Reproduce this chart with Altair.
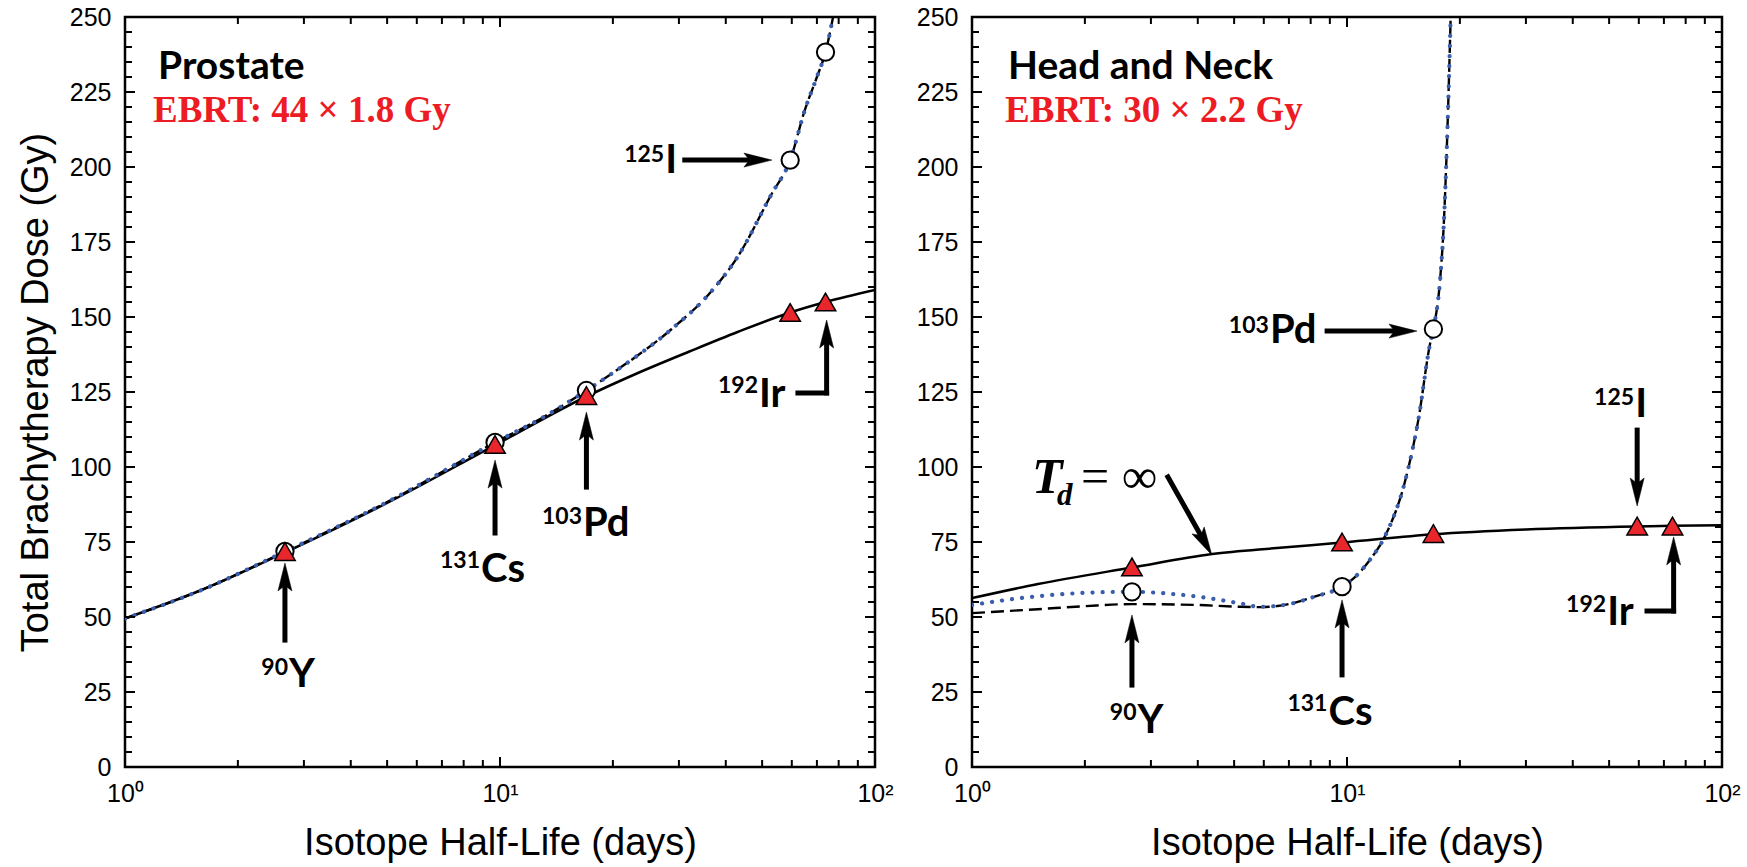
import math
import altair as alt
import pandas as pd

PLOT_W = 750
PLOT_H = 750
X_DOMAIN = [1, 100]
Y_DOMAIN = [0, 250]

# Isotope half-lives (days): 90Y, 131Cs, 103Pd, 125I, 192Ir
HALF_LIFE = [2.67, 9.7, 17.0, 59.4, 73.8]

# ---- Prostate panel ----
PRO_TRIANGLE = [71.8, 107.5, 123.8, 151.5, 155.0]
PRO_CIRCLE = [71.9, 108.2, 125.5, 202.3, 238.3]
PRO_SOLID_X = [1, 1.6, 2.67, 5, 9.7, 17, 23, 32, 43, 59.4, 73.8, 100]
PRO_SOLID_Y = [49.5, 59, 71.5, 88, 107.3, 123.5, 131, 138.5, 145, 151.5, 155, 159]
PRO_DASH_X = [1, 1.6, 2.67, 5, 9.7, 13, 17, 20.6, 28.7, 36, 43, 53, 59.4, 65, 70, 73.8, 77.3]
PRO_DASH_Y = [49.5, 59, 71.8, 88.3, 108.2, 116.5, 125.5, 132.5, 146, 157.5, 170, 191, 202.3, 219, 230, 238.3, 250]

# ---- Head and Neck panel ----
HN_TRIANGLE = [66.7, 75.0, 77.8, 80.3, 80.3]
HN_CIRCLE_X = [2.67, 9.7, 17.0]
HN_CIRCLE = [58.4, 60.1, 146.0]
HN_SOLID_X = [1, 1.5, 2.67, 4.37, 6.5, 9.7, 17, 30, 59.4, 73.8, 100]
HN_SOLID_Y = [56.3, 61, 66.5, 71, 73, 74.8, 77.6, 79.2, 80.2, 80.4, 80.6]
HN_DOT_X = [1, 1.44, 1.96, 2.67, 3.41, 4.27, 5.2, 5.86, 7.0, 8.2, 9.7, 10.5, 11.5, 12.6,
            14.3, 15.5, 16.65, 17.0, 17.7, 18.1, 18.5, 18.9]
HN_DOT_Y = [54, 56.7, 58, 58.4, 57.7, 56.3, 54.5, 53.4, 54.3, 56.8, 60.1, 63.3, 69, 76.7,
            95.5, 115.8, 141, 146, 162, 180, 210, 250]
HN_DASH_X = [1, 1.5, 2.0, 2.67, 4.0, 5.2, 5.86] + HN_DOT_X[8:]
HN_DASH_Y = [51.3, 52.6, 53.6, 54.3, 54.0, 53.4, 53.3] + HN_DOT_Y[8:]

# ---- Isotope labels (superscript mass number + element symbol) ----
LABEL_SUP = ["90", "131", "103", "125", "192"]
LABEL_SYM = ["Y", "Cs", "Pd", "I", "Ir"]
PRO_LABEL_X = [2.721, 8.846, 16.55, 27.4, 48.75]
PRO_LABEL_Y = [26.7, 61.7, 77.0, 198.0, 120.0]
PRO_SUP_Y = [30.7, 66.3, 81.0, 201.7, 124.7]
HN_LABEL_X = [2.746, 8.87, 6.19, 58.3, 49.1]
HN_LABEL_Y = [11.3, 14.0, 141.3, 116.7, 47.3]
HN_SUP_Y = [15.7, 18.7, 144.7, 120.7, 51.7]

# ---- Arrows: shaft from (x0, y0) to (x1, y1); head drawn at (x1, y1) when flagged ----
PRO_ARROW_X0 = [2.67, 9.7, 17.0, 31.1, 62.3, 74.3]
PRO_ARROW_Y0 = [42.3, 78.0, 93.3, 202.3, 124.7, 124.7]
PRO_ARROW_X1 = [2.67, 9.7, 17.0, 53.1, 74.3, 74.3]
PRO_ARROW_Y1 = [68.0, 102.3, 118.3, 202.3, 124.7, 149.0]
PRO_ARROW_HEAD = [True, True, True, True, False, True]

HN_ARROW_X0 = [2.67, 9.7, 8.85, 3.33, 59.4, 63.1, 74.3]
HN_ARROW_Y0 = [27.3, 30.7, 145.3, 96.7, 112.3, 52.0, 52.0]
HN_ARROW_X1 = [2.67, 9.7, 15.37, 4.36, 59.4, 74.3, 74.3]
HN_ARROW_Y1 = [50.7, 55.7, 145.3, 70.7, 87.0, 52.0, 76.7]
HN_ARROW_HEAD = [True, True, True, True, True, False, True]

# ---- Panel headings ----
PANEL_TITLE = ["Prostate", "Head and Neck"]
PANEL_TITLE_X = [1.225, 1.248]
PANEL_TITLE_Y = [229.3, 229.3]
EBRT_TEXT = ["EBRT: 44 \u00d7 1.8 Gy", "EBRT: 30 \u00d7 2.2 Gy"]
EBRT_X = [1.188, 1.225]
EBRT_Y = [215.0, 215.0]

# "T_d = infinity" callout pieces
TD_TEXT = ["T", "d", "= \u221e"]
TD_X = [1.445, 1.686, 1.953]
TD_Y = [91.3, 87.3, 91.3]

# Axis ticks
X_MAJOR = [1, 10, 100]
X_MINOR = [2, 3, 4, 5, 6, 7, 8, 9, 20, 30, 40, 50, 60, 70, 80, 90]
Y_MAJOR = list(range(0, 251, 25))
Y_MINOR = [v for v in range(0, 251, 5) if v % 25 != 0]

RED = "#E8262C"
BLUE = "#3A5DAE"
SANS = "Liberation Sans"
LABEL_FONT = "Lato"
SERIF = "Liberation Serif"

ARROW_PATH = "M0,0L0.5,2L0,1.6L-0.5,2Z"   # tip at origin, pointing up
HEAD_LEN = 28

X_SCALE = alt.Scale(type="log", domain=X_DOMAIN)
Y_SCALE = alt.Scale(domain=Y_DOMAIN)


def to_px(x, y):
    return (math.log10(x) / 2 * PLOT_W, (Y_DOMAIN[1] - y) / Y_DOMAIN[1] * PLOT_H)


def from_px(px, py):
    return (10 ** (px / PLOT_W * 2), Y_DOMAIN[1] - py / PLOT_H * Y_DOMAIN[1])


def arrow_frames(x0s, y0s, x1s, y1s, heads):
    shafts, tips = [], []
    for x0, y0, x1, y1, h in zip(x0s, y0s, x1s, y1s, heads):
        p0x, p0y = to_px(x0, y0)
        p1x, p1y = to_px(x1, y1)
        dx, dy = p1x - p0x, p1y - p0y
        length = math.hypot(dx, dy)
        ex, ey = x1, y1
        if h:
            angle = math.degrees(math.atan2(dx, -dy)) % 360
            tips.append({"x": x1, "y": y1, "angle": angle})
            bx = p1x - dx / length * (HEAD_LEN * 0.6)
            by = p1y - dy / length * (HEAD_LEN * 0.6)
            ex, ey = from_px(bx, by)
        shafts.append({"x": x0, "y": y0, "x2": ex, "y2": ey})
    return pd.DataFrame(shafts), pd.DataFrame(tips)


# Position channels share one scale per panel; only the line layer carries the axis spec.
def X(field="x"):
    return alt.X(f"{field}:Q", scale=X_SCALE)


def Y(field="y"):
    return alt.Y(f"{field}:Q", scale=Y_SCALE)


def x_axis():
    return alt.Axis(
        values=X_MAJOR,
        labelExpr="datum.value == 1 ? '10\u2070' : datum.value == 10 ? '10\u00b9' : '10\u00b2'",
        ticks=False, tickSize=0, domain=False, grid=False,
        labelFont=SANS, labelFontSize=25, labelColor="black", labelPadding=14,
        labelFlush=False, labelOverlap=False,
        title="Isotope Half-Life (days)", titleFont=SANS, titleFontSize=38,
        titleFontWeight="normal", titleColor="black", titlePadding=18,
    )


def y_axis(with_title):
    kw = dict(
        values=Y_MAJOR, ticks=False, tickSize=0, domain=False, grid=False,
        labelFont=SANS, labelFontSize=25, labelColor="black", labelPadding=14,
        labelFlush=False, labelOverlap=False,
    )
    if with_title:
        kw.update(title="Total Brachytherapy Dose (Gy)", titleFont=SANS, titleFontSize=38,
                  titleFontWeight="normal", titleColor="black", titlePadding=14)
    else:
        kw.update(title="")
    return alt.Axis(**kw)


def tick_layers():
    layers = []
    for vals, ln in ((Y_MAJOR, 10), (Y_MINOR, 7)):
        df = pd.DataFrame({"y": vals})
        layers.append(alt.Chart(df).mark_rule(color="black", strokeWidth=2).encode(
            y=Y(), x=alt.value(0), x2=alt.value(ln)))
        layers.append(alt.Chart(df).mark_rule(color="black", strokeWidth=2).encode(
            y=Y(), x=alt.value(PLOT_W), x2=alt.value(PLOT_W - ln)))
    for vals, ln in ((X_MAJOR, 10), (X_MINOR, 7)):
        df = pd.DataFrame({"x": vals})
        layers.append(alt.Chart(df).mark_rule(color="black", strokeWidth=2).encode(
            x=X(), y=alt.value(PLOT_H), y2=alt.value(PLOT_H - ln)))
        layers.append(alt.Chart(df).mark_rule(color="black", strokeWidth=2).encode(
            x=X(), y=alt.value(0), y2=alt.value(ln)))
    return layers


def panel(idx, solid, dashed, dotted, circles, triangles, labels, arrows, with_title, extra=()):
    solid_df = pd.DataFrame({"x": solid[0], "y": solid[1]})
    base = alt.Chart(solid_df).mark_line(
        color="black", strokeWidth=2.5, interpolate="monotone", clip=True
    ).encode(
        x=alt.X("x:Q", scale=X_SCALE, axis=x_axis()),
        y=alt.Y("y:Q", scale=Y_SCALE, axis=y_axis(with_title)),
    )
    dash = alt.Chart(pd.DataFrame({"x": dashed[0], "y": dashed[1]})).mark_line(
        color="black", strokeWidth=2.4, strokeDash=[13, 6], interpolate="monotone", clip=True
    ).encode(x=X(), y=Y())
    dot = alt.Chart(pd.DataFrame({"x": dotted[0], "y": dotted[1]})).mark_line(
        color=BLUE, strokeWidth=4.2, strokeDash=[0.1, 10], strokeCap="round",
        interpolate="monotone", clip=True
    ).encode(x=X(), y=Y())
    circ = alt.Chart(pd.DataFrame({"x": circles[0], "y": circles[1]})).mark_point(
        shape="circle", filled=True, fill="white", stroke="black", strokeWidth=2,
        size=300, opacity=1
    ).encode(x=X(), y=Y())
    tri = alt.Chart(pd.DataFrame({"x": triangles[0], "y": triangles[1]})).mark_point(
        shape="triangle-up", filled=True, fill=RED, stroke="black", strokeWidth=1.5,
        size=420, opacity=1
    ).encode(x=X(), y=Y())

    shafts_df, tips_df = arrow_frames(*arrows)
    shafts = alt.Chart(shafts_df).mark_rule(
        color="black", strokeWidth=5, strokeCap="square"
    ).encode(x=X(), y=Y(), x2="x2:Q", y2="y2:Q")
    heads = alt.Chart(tips_df).mark_point(
        shape=ARROW_PATH, filled=True, fill="black", stroke="black", strokeWidth=0.5,
        size=HEAD_LEN ** 2, opacity=1
    ).encode(x=X(), y=Y(), angle=alt.Angle("angle:Q", scale=None))

    lab_x, lab_y, sup_y = labels
    lab_df = pd.DataFrame({"x": lab_x, "y": lab_y, "t": LABEL_SYM})
    sup_df = pd.DataFrame({"x": lab_x, "y": sup_y, "t": LABEL_SUP})
    sym = alt.Chart(lab_df).mark_text(
        font=LABEL_FONT, fontWeight="bold", fontSize=40, align="left",
        baseline="alphabetic", color="black", dx=1
    ).encode(x=X(), y=Y(), text="t:N")
    sup = alt.Chart(sup_df).mark_text(
        font=LABEL_FONT, fontWeight="bold", fontSize=23, align="right",
        baseline="alphabetic", color="black"
    ).encode(x=X(), y=Y(), text="t:N")

    title = alt.Chart(pd.DataFrame({
        "x": [PANEL_TITLE_X[idx]], "y": [PANEL_TITLE_Y[idx]], "t": [PANEL_TITLE[idx]]
    })).mark_text(
        font=LABEL_FONT, fontWeight="bold", fontSize=39, align="left",
        baseline="alphabetic", color="black"
    ).encode(x=X(), y=Y(), text="t:N")
    ebrt = alt.Chart(pd.DataFrame({
        "x": [EBRT_X[idx]], "y": [EBRT_Y[idx]], "t": [EBRT_TEXT[idx]]
    })).mark_text(
        font=SERIF, fontWeight="bold", fontSize=37, align="left",
        baseline="alphabetic", color="#ED1C24"
    ).encode(x=X(), y=Y(), text="t:N")

    layers = [base, dash, dot, circ, tri, shafts, heads, sup, sym, title, ebrt]
    layers += list(extra)
    layers += tick_layers()
    return alt.layer(*layers).properties(width=PLOT_W, height=PLOT_H)


def td_layers():
    t = alt.Chart(pd.DataFrame({"x": [TD_X[0]], "y": [TD_Y[0]], "t": [TD_TEXT[0]]})).mark_text(
        font=SERIF, fontWeight="bold", fontStyle="italic", fontSize=50, align="left",
        baseline="alphabetic", color="black"
    ).encode(x=X(), y=Y(), text="t:N")
    d = alt.Chart(pd.DataFrame({"x": [TD_X[1]], "y": [TD_Y[1]], "t": [TD_TEXT[1]]})).mark_text(
        font=SERIF, fontWeight="bold", fontStyle="italic", fontSize=31, align="left",
        baseline="alphabetic", color="black"
    ).encode(x=X(), y=Y(), text="t:N")
    eq = alt.Chart(pd.DataFrame({"x": [TD_X[2]], "y": [TD_Y[2]], "t": [TD_TEXT[2]]})).mark_text(
        font=SERIF, fontSize=50, align="left", baseline="alphabetic", color="black"
    ).encode(x=X(), y=Y(), text="t:N")
    return [t, d, eq]


left = panel(
    0,
    (PRO_SOLID_X, PRO_SOLID_Y),
    (PRO_DASH_X, PRO_DASH_Y),
    (PRO_DASH_X, PRO_DASH_Y),
    (HALF_LIFE, PRO_CIRCLE),
    (HALF_LIFE, PRO_TRIANGLE),
    (PRO_LABEL_X, PRO_LABEL_Y, PRO_SUP_Y),
    (PRO_ARROW_X0, PRO_ARROW_Y0, PRO_ARROW_X1, PRO_ARROW_Y1, PRO_ARROW_HEAD),
    True,
)
right = panel(
    1,
    (HN_SOLID_X, HN_SOLID_Y),
    (HN_DASH_X, HN_DASH_Y),
    (HN_DOT_X, HN_DOT_Y),
    (HN_CIRCLE_X, HN_CIRCLE),
    (HALF_LIFE, HN_TRIANGLE),
    (HN_LABEL_X, HN_LABEL_Y, HN_SUP_Y),
    (HN_ARROW_X0, HN_ARROW_Y0, HN_ARROW_X1, HN_ARROW_Y1, HN_ARROW_HEAD),
    False,
    extra=td_layers(),
)

# flush bounds: the two plot areas sit 97 px apart regardless of axis extents
chart = alt.hconcat(left, right, spacing=97, bounds="flush").properties(
    padding={"left": 16, "top": 3, "right": 0, "bottom": 0},
    background="white",
).configure_view(stroke="black", strokeWidth=2.5)

chart.save("out.html", embed_options={"renderer": "svg", "actions": False})
